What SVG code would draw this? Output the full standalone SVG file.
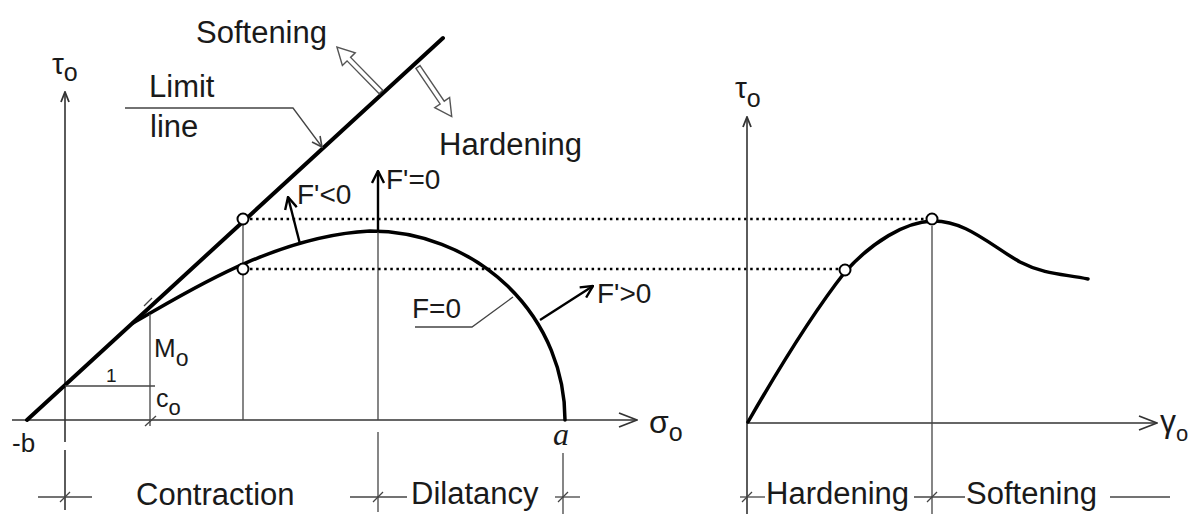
<svg xmlns="http://www.w3.org/2000/svg" width="1190" height="514" viewBox="0 0 1190 514">
<style>
.t{font-family:"Liberation Sans",Arial,sans-serif;fill:#1a1a1a}
.big{font-size:31px}
.mid{font-size:28px}
.ax{stroke:#333;stroke-width:1.6;fill:none}
.thin{stroke:#444;stroke-width:1.3;fill:none}
.thick{stroke:#000;stroke-width:4;fill:none;stroke-linecap:round}
.crv{stroke:#000;stroke-width:3.5;fill:none;stroke-linecap:round}
.dot{stroke:#000;stroke-width:2.6;stroke-dasharray:2.5 3.6;fill:none}
.pt{fill:#fff;stroke:#000;stroke-width:2}
.arr{stroke:#000;stroke-width:2.4;fill:none}
.hollow{fill:#fff;stroke:#555;stroke-width:1.4}
</style>
<defs>
<marker id="axh" viewBox="0 0 20 16" refX="19" refY="8" markerWidth="20" markerHeight="16" markerUnits="userSpaceOnUse" orient="auto"><path d="M1,1 L19,8 L1,15" fill="none" stroke="#333" stroke-width="1.8"/></marker>
<marker id="axs" viewBox="0 0 12 10" refX="11" refY="5" markerWidth="12" markerHeight="10" markerUnits="userSpaceOnUse" orient="auto"><path d="M1,1 L11,5 L1,9" fill="none" stroke="#333" stroke-width="1.8"/></marker>
<marker id="fh" viewBox="0 0 14 14" refX="13" refY="7" markerWidth="14" markerHeight="14" markerUnits="userSpaceOnUse" orient="auto"><path d="M1,1 L13,7 L1,13" fill="none" stroke="#000" stroke-width="2.4"/></marker>
<marker id="lh" viewBox="0 0 12 12" refX="11" refY="6" markerWidth="12" markerHeight="12" markerUnits="userSpaceOnUse" orient="auto"><path d="M1,1 L11,6 L1,11" fill="none" stroke="#444" stroke-width="1.6"/></marker>
</defs>
<rect width="1190" height="514" fill="#fff"/>

<g id="left-axes">
<line class="ax" x1="12" y1="420" x2="637" y2="420" marker-end="url(#axh)"/>
<line class="ax" x1="65" y1="442" x2="65" y2="92" marker-end="url(#axs)"/>
<line class="ax" x1="65" y1="450" x2="65" y2="510"/>
<text class="t" x="52" y="74" font-size="30">τ<tspan font-size="25" dy="7">o</tspan></text>
<text class="t" x="649" y="433" font-size="32">σ<tspan font-size="25" dy="8">o</tspan></text>
<text class="t" x="12" y="452" font-size="26">-b</text>
<text x="553" y="445" font-family="Liberation Serif,serif" font-style="italic" font-size="32" fill="#1a1a1a">a</text>
</g>

<g id="limit-line">
<line class="thick" x1="27" y1="420" x2="443" y2="38"/>
<text class="t big" x="149" y="97">Limit</text>
<text class="t big" x="150" y="137">line</text>
<polyline class="thin" points="125,108 293,108 322,147" marker-end="url(#lh)"/>
</g>

<g id="yield-curve">
<path class="crv" d="M133,323 C175,300 270,236 370,231 A195,189 0 0 1 565,420"/>
<line class="thin" x1="150" y1="314" x2="150" y2="426"/>
<line class="thin" x1="144" y1="306" x2="152" y2="298"/>
<line class="thin" x1="65" y1="386" x2="155" y2="386"/>
<line class="thin" x1="145" y1="426" x2="156" y2="416"/>
<text class="t" x="106" y="382" font-size="19">1</text>
<text class="t" x="154" y="357" font-size="26">M<tspan font-size="23" dy="9">o</tspan></text>
<text class="t" x="156" y="407" font-size="25">c<tspan font-size="22" dy="8">o</tspan></text>
<text class="t mid" x="412" y="318">F=0</text>
<polyline class="thin" points="415,327 472,327 513,297"/>
</g>

<g id="gradient-arrows">
<line class="arr" x1="300" y1="244" x2="288" y2="197" marker-end="url(#fh)"/>
<text class="t mid" x="297" y="204">F'&lt;0</text>
<line class="arr" x1="378" y1="232" x2="378" y2="171" marker-end="url(#fh)"/>
<text class="t mid" x="386" y="189">F'=0</text>
<line class="arr" x1="540" y1="320" x2="593" y2="286" marker-end="url(#fh)"/>
<text class="t mid" x="597" y="303">F'&gt;0</text>
</g>

<g id="soft-hard-arrows">
<g transform="translate(381,92) rotate(-134.4)"><polygon class="hollow" points="0,-2.5 46,-2.5 46,-9 63,0 46,9 46,2.5 0,2.5"/></g>
<g transform="translate(418,67) rotate(55.8)"><polygon class="hollow" points="0,-2.5 43,-2.5 43,-9 60,0 43,9 43,2.5 0,2.5"/></g>
<text class="t big" x="196" y="43">Softening</text>
<text class="t big" x="439" y="155">Hardening</text>
</g>

<g id="guides">
<line class="thin" x1="243" y1="224" x2="243" y2="420"/>
<line class="thin" x1="378" y1="232" x2="378" y2="420"/>
<line class="thin" x1="378" y1="432" x2="378" y2="512"/>
<line class="thin" x1="563" y1="453" x2="563" y2="514"/>
<line class="dot" x1="250" y1="219" x2="926" y2="219"/>
<line class="dot" x1="250" y1="269" x2="839" y2="269"/>
<circle class="pt" cx="243" cy="219" r="5.5"/>
<circle class="pt" cx="243" cy="269" r="5.5"/>
</g>

<g id="left-dims">
<line class="thin" x1="38" y1="497" x2="92" y2="497"/>
<line class="thin" x1="60" y1="502" x2="70" y2="492"/>
<line class="thin" x1="350" y1="497" x2="407" y2="497"/>
<line class="thin" x1="373" y1="502" x2="383" y2="492"/>
<line class="thin" x1="555" y1="497" x2="580" y2="497"/>
<line class="thin" x1="558" y1="502" x2="568" y2="492"/>
<text class="t big" x="136" y="505">Contraction</text>
<text class="t big" x="411" y="504">Dilatancy</text>
</g>

<g id="right-chart">
<line class="ax" x1="747" y1="514" x2="747" y2="117" marker-end="url(#axs)"/>
<line class="ax" x1="747" y1="423" x2="1157" y2="423" marker-end="url(#axh)"/>
<text class="t" x="735" y="98" font-size="30">τ<tspan font-size="25" dy="9">o</tspan></text>
<text class="t" x="1160" y="432" font-size="32">γ<tspan font-size="22" dy="9">o</tspan></text>
<line class="thin" x1="932" y1="226" x2="932" y2="514"/>
<path class="crv" d="M748,422 C775,375 812,314 845,272 C872,242 905,222 932,221 C965,220 990,245 1020,262 C1045,275 1065,274 1088,279"/>
<circle class="pt" cx="845" cy="270" r="5.5"/>
<circle class="pt" cx="932" cy="219" r="5.5"/>
<line class="thin" x1="740" y1="497" x2="765" y2="497"/>
<line class="thin" x1="742" y1="502" x2="752" y2="492"/>
<line class="thin" x1="914" y1="497" x2="965" y2="497"/>
<line class="thin" x1="927" y1="502" x2="937" y2="492"/>
<line class="thin" x1="1110" y1="497" x2="1170" y2="497"/>
<text class="t big" x="766" y="504">Hardening</text>
<text class="t big" x="966" y="504">Softening</text>
</g>
</svg>
